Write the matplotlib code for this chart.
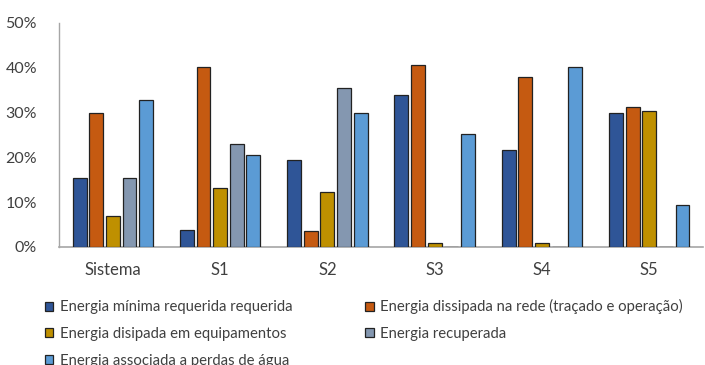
import numpy as np
import matplotlib.pyplot as plt
from matplotlib.patches import Patch

plt.rcParams['font.family'] = ['Lato', 'DejaVu Sans']

categorias = ['Sistema', 'S1', 'S2', 'S3', 'S4', 'S5']
series = [
    'Energia mínima requerida requerida',
    'Energia dissipada na rede (traçado e operação)',
    'Energia disipada em equipamentos',
    'Energia recuperada',
    'Energia associada a perdas de água',
]
minima = [15.3, 3.9, 19.4, 33.9, 21.6, 29.9]
dissipada_rede = [30.0, 40.1, 3.6, 40.7, 38.0, 31.2]
dissipada_equip = [6.9, 13.2, 12.3, 0.9, 0.9, 30.3]
recuperada = [15.5, 22.9, 35.5, 0.0, 0.0, 0.0]
perdas_agua = [32.7, 20.6, 30.0, 25.3, 40.2, 9.3]
cores = ['#2F5597', '#C55A11', '#BF9000', '#8497B0', '#5B9BD5']

valores = [minima, dissipada_rede, dissipada_equip, recuperada, perdas_agua]

fig = plt.figure(figsize=(7.05, 3.65), dpi=100)
ax = fig.add_axes([0.084, 0.3233, 0.913, 0.6137])

x = np.arange(len(categorias))
slot = 0.155
largura = 0.13
for i, (vals, cor) in enumerate(zip(valores, cores)):
    v = np.array(vals) / 100
    ax.bar(x + (i - 2) * slot, v, largura, color=cor, edgecolor='#222222',
           linewidth=0.9, zorder=3)

ax.set_xlim(-0.5, len(categorias) - 0.5)
ax.set_ylim(0, 0.5)
ax.set_yticks(np.arange(0, 0.51, 0.1))
ax.set_yticklabels([f'{int(round(t * 100))}%' for t in np.arange(0, 0.51, 0.1)])
ax.set_xticks(x)
ax.set_xticklabels(categorias)
ax.tick_params(axis='both', length=0, colors='#404040')
ax.tick_params(axis='x', pad=11, labelsize=12)
ax.tick_params(axis='y', pad=16, labelsize=11.5)

for s in ['top', 'right']:
    ax.spines[s].set_visible(False)
ax.spines['left'].set_color('#A6A6A6')
ax.spines['bottom'].set_color('#A6A6A6')
ax.spines['left'].set_linewidth(1.0)
ax.spines['bottom'].set_linewidth(1.2)

# legend fills column-first, so reorder to get two items per row
ordem = [0, 2, 4, 1, 3]
handles = [Patch(facecolor=cores[i], edgecolor='#222222', linewidth=0.9) for i in ordem]
labels = [series[i] for i in ordem]
fig.legend(handles, labels, loc='upper left', bbox_to_anchor=(0.064, 0.18),
           ncol=2, frameon=False, fontsize=10.7, labelcolor='#404040',
           handlelength=0.55, handleheight=0.55, handletextpad=0.45,
           labelspacing=0.86, columnspacing=4.9, borderpad=0, borderaxespad=0)

fig.savefig('out.png', dpi=100)
